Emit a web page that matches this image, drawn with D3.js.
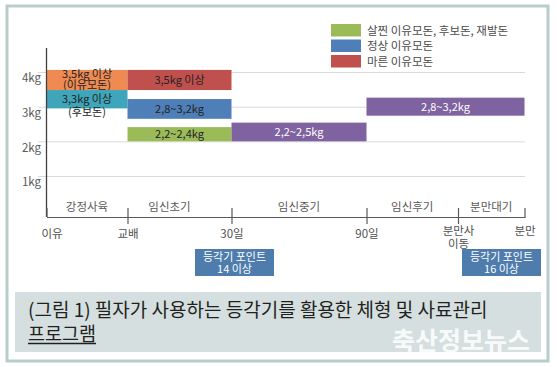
<!DOCTYPE html>
<html>
<head>
<meta charset="utf-8">
<script src="https://cdn.jsdelivr.net/npm/d3@7"></script>
<style>
  body { margin: 0; background: #fff; }
  svg { display: block; font-family: "Noto Sans CJK KR", "Noto Sans", sans-serif; }
</style>
</head>
<body>
<svg id="chart" width="557" height="367"></svg>
<script>
// stages on the time axis (index = position on the axis)
var stageTicks = ["이유", "교배", "30일", "90일", "분만사\n이동", "분만"];
var stagePeriods = ["강정사육", "임신초기", "임신중기", "임신후기", "분만대기"];
var kgTicks = [1, 2, 3, 4];

// bars: from stage, to stage, kg low, kg high, label, colour key
var barFrom  = [0, 0, 1, 1, 1, 2, 3];
var barTo    = [1, 1, 2, 2, 2, 3, 5];
var barLow   = [3.48, 2.95, 3.48, 2.65, 2.0, 2.0, 2.74];
var barHigh  = [4.06, 3.48, 4.06, 3.22, 2.41, 2.54, 3.26];
var barLabel = [["3,5kg 이상", "(이유모돈)"], ["3,3kg 이상", "(후보돈)"], ["3,5kg 이상"],
                ["2,8~3,2kg"], ["2,2~2,4kg"], ["2,2~2,5kg"], ["2,8~3,2kg"]];
var barKind  = ["sow", "gilt", "thin", "normal", "fat", "preg", "preg"];

var legendKeys   = ["fat", "normal", "thin"];
var legendLabels = ["살찐 이유모돈, 후보돈, 재발돈", "정상 이유모돈", "마른 이유모돈"];

var calloutAt    = [2, 5];
var calloutLines = [["등각기 포인트", "14 이상"], ["등각기 포인트", "16 이상"]];

var captionLines = ["(그림 1) 필자가 사용하는 등각기를 활용한 체형 및 사료관리", "프로그램"];
var watermark = "축산정보뉴스";

var colors = {
  sow: "#ef8b52", gilt: "#3fa5ba", thin: "#c0504d",
  normal: "#4f7fb8", fat: "#9bbb59", preg: "#7f62a0"
};

var svg = d3.select("#chart");

// frame
svg.append("rect").attr("x", 7).attr("y", 6).attr("width", 541).attr("height", 355)
  .attr("fill", "#fff").attr("stroke", "#b7cdcb").attr("stroke-width", 3);

var x = d3.scaleLinear().domain([0, 1, 2, 3, 4, 5]).range([46.5, 127.5, 231.5, 366.5, 458, 524.5]);
var y = d3.scaleLinear().domain([0, 4]).range([210.7, 72]);
var axisY = 217;

// kg grid + labels
var yAxis = svg.append("g").attr("transform", "translate(38,0)")
  .call(d3.axisLeft(y).tickValues(kgTicks).tickFormat(d => d + "kg")
    .tickSize(-(525 - 38)).tickPadding(-3));
yAxis.select(".domain").remove();
yAxis.selectAll(".tick line").attr("stroke", "#d9d9d9");
yAxis.selectAll(".tick text").attr("dy", "0.85em").attr("fill", "#595959")
  .attr("font-size", 11.5).attr("font-family", "Noto Sans CJK KR");

// bars
var bars = svg.append("g").selectAll("g").data(barFrom).enter().append("g");
bars.append("rect")
  .attr("x", (d, i) => x(barFrom[i]))
  .attr("y", (d, i) => y(barHigh[i]))
  .attr("width", (d, i) => x(barTo[i]) - x(barFrom[i]))
  .attr("height", (d, i) => y(barLow[i]) - y(barHigh[i]))
  .attr("fill", (d, i) => colors[barKind[i]]);
// first-line offset from bar top and line gap for the two-line labels
var twoLineTop = { 0: 4.5, 1: 9.5 };
var twoLineGap = { 0: 11, 1: 13 };
bars.each(function(d, i) {
  var cx = (x(barFrom[i]) + x(barTo[i])) / 2;
  var lines = barLabel[i];
  var top = y(barHigh[i]), h = y(barLow[i]) - top;
  var ty = lines.length === 1 ? top + h / 2 : top + twoLineTop[i];
  var t = d3.select(this).append("text").attr("y", ty)
    .attr("text-anchor", "middle").attr("font-size", 11)
    .attr("fill", barKind[i] === "preg" ? "#fff" : "#222");
  lines.forEach(function(s, j) {
    t.append("tspan").attr("x", cx)
      .attr("dy", j === 0 ? "0.35em" : twoLineGap[i]).text(s);
  });
});

// axes lines
svg.append("line").attr("x1", x(0)).attr("x2", x(0)).attr("y1", 48).attr("y2", axisY)
  .attr("stroke", "#404040").attr("stroke-width", 1.3);
var xAxis = svg.append("g").attr("transform", "translate(0," + axisY + ")")
  .call(d3.axisBottom(x).tickValues([0, 1, 2, 3, 4, 5]).tickFormat(i => stageTicks[i])
    .tickSizeInner(7).tickSizeOuter(0).tickPadding(6));
xAxis.select(".domain").attr("stroke", "#595959").attr("stroke-width", 1.2);
xAxis.selectAll(".tick line").attr("stroke", "#595959").attr("stroke-width", 1.2)
  .attr("y1", -9).attr("y2", (d) => d === 0 ? 0 : (d === 5 ? 1 : 7));
xAxis.selectAll(".tick text").attr("fill", "#505050").attr("font-size", 11.5)
  .attr("font-family", "Noto Sans CJK KR")
  .attr("dx", d => d === 0 ? 5 : 0)
  .attr("y", d => d === 5 ? 10 : 13)
  .each(function(d) {
    var parts = stageTicks[d].split("\n");
    if (parts.length > 1) {
      var t = d3.select(this).text(null).attr("y", 18);
      parts.forEach(function(p, j) {
        t.append("tspan").attr("x", 0).attr("dy", j === 0 ? "0" : "1.1em").text(p);
      });
    }
  });

// period labels
svg.append("g").selectAll("text").data(stagePeriods).enter().append("text")
  .attr("x", (d, i) => (x(i) + x(i + 1)) / 2 + (i === 1 ? -10 : 0))
  .attr("y", 211).attr("text-anchor", "middle").attr("font-size", 11.5)
  .attr("fill", "#595959").text(d => d);

// legend
var lg = svg.append("g").selectAll("g").data(legendKeys).enter().append("g")
  .attr("transform", (d, i) => "translate(331," + (24 + i * 15.5) + ")");
lg.append("rect").attr("width", 30).attr("height", 12.5).attr("fill", d => colors[d]);
lg.append("text").attr("x", 36).attr("y", 6.5).attr("dy", "0.35em")
  .attr("font-size", 11.5).attr("fill", "#4a4a4a").text((d, i) => legendLabels[i]);

// callouts
var calloutShift = [3, -23];
var co = svg.append("g").selectAll("g").data(calloutAt).enter().append("g")
  .attr("transform", (d, i) => "translate(" + (x(d) + calloutShift[i]) + ",249)");
co.append("rect").attr("x", -39.5).attr("width", 79).attr("height", 27).attr("fill", "#4e7cad");
co.each(function(d, i) {
  var t = d3.select(this).append("text").attr("y", 7.8)
    .attr("text-anchor", "middle").attr("font-size", 11).attr("fill", "#fff");
  calloutLines[i].forEach(function(s, j) {
    t.append("tspan").attr("x", 0).attr("dy", j === 0 ? "0.35em" : 12.4).text(s);
  });
});

// caption
svg.append("rect").attr("x", 15).attr("y", 292).attr("width", 526).attr("height", 60)
  .attr("fill", "#d5dfdf");
var cap1 = svg.append("text").attr("x", 28).attr("y", 317).attr("font-size", 19)
  .attr("fill", "#231f20").text(captionLines[0]);
if (cap1.node().getComputedTextLength() > 472)
  cap1.attr("textLength", 472).attr("lengthAdjust", "spacingAndGlyphs");
var cap2 = svg.append("text").attr("x", 28).attr("y", 341).attr("font-size", 19)
  .attr("fill", "#231f20").text(captionLines[1]);
if (cap2.node().getComputedTextLength() > 68)
  cap2.attr("textLength", 68).attr("lengthAdjust", "spacingAndGlyphs");
svg.append("line").attr("x1", 28).attr("x2", 96).attr("y1", 343.5).attr("y2", 343.5)
  .attr("stroke", "#231f20").attr("stroke-width", 1.5);

var wm = svg.append("text").attr("x", 392).attr("y", 350).attr("font-size", 25)
  .attr("font-weight", 700).attr("fill", "#ffffff").attr("fill-opacity", 0.85)
  .text(watermark);
if (wm.node().getComputedTextLength() > 148)
  wm.attr("textLength", 148).attr("lengthAdjust", "spacingAndGlyphs");
</script>
</body>
</html>
